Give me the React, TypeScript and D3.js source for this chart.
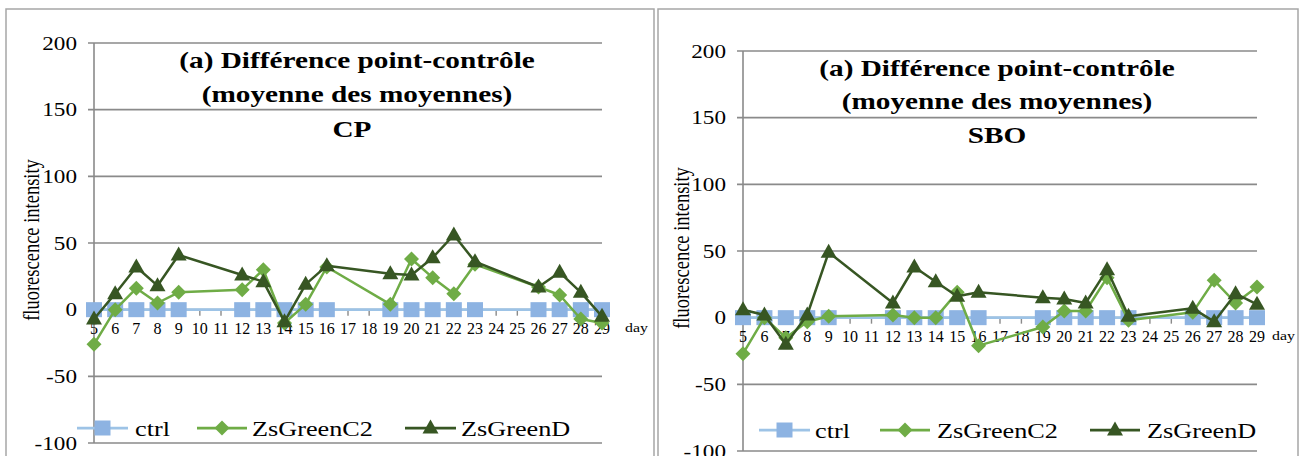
import React from "react";
import * as d3 from "d3";

// ---------- data ----------
const dayTicks = [5, 6, 7, 8, 9, 10, 11, 12, 13, 14, 15, 16, 17, 18, 19, 20, 21, 22, 23, 24, 25, 26, 27, 28, 29];
const yTicks = [-100, -50, 0, 50, 100, 150, 200];
const measuredDays = [5, 6, 7, 8, 9, 12, 13, 14, 15, 16, 19, 20, 21, 22, 23, 26, 27, 28, 29];

const cpCtrl = [0, 0, 0, 0, 0, 0, 0, 0, 0, 0, 0, 0, 0, 0, 0, 0, 0, 0, 0];
const cpC2 = [-26, 0, 16, 5, 13, 15, 30, -10, 4, 32, 4, 38, 24, 12, 34, 17, 11, -7, -10];
const cpD = [-7, 12, 32, 18, 41, 26, 21, -9, 19, 33, 27, 26, 39, 56, 36, 17, 28, 13, -5];

const sboCtrl = [0, 0, 0, 0, 0, 0, 0, 0, 0, 0, 0, 0, 0, 0, 0, 0, 0, 0, 0];
const sboC2 = [-27, 0, -15, -3, 1, 2, 0, 0, 19, -21, -7, 5, 5, 30, -2, 4, 28, 11, 23];
const sboD = [6, 2, -20, 2, 49, 11, 38, 27, 16, 19, 15, 14, 11, 36, 1, 7, -3, 18, 10];

const seriesNames = ["ctrl", "ZsGreenC2", "ZsGreenD"];
const titleLines = ["(a) Différence point-contrôle", "(moyenne des moyennes)"];

// ---------- styles ----------
const FONT = "Liberation Serif, Times New Roman, serif";
const SX = 1.22;
const GRID = "#8a8a8a";
const COLORS = {
  ctrlLine: "#9DC3E6",
  ctrlMark: "#8DB3E2",
  c2: "#6FAC46",
  d: "#375623",
};

function SText(props: {
  x: number; y: number; size: number; anchor?: string; weight?: string; rotate?: number; sx?: number; children: React.ReactNode;
}) {
  const { x, y, size, anchor = "start", weight = "normal", rotate = 0, sx = SX, children } = props;
  return (
    <text
      transform={`translate(${x},${y}) scale(${sx},1)${rotate ? ` rotate(${rotate})` : ""}`}
      textAnchor={anchor}
      fontFamily={FONT}
      fontSize={size}
      fontWeight={weight}
      fill="#000"
    >
      {children}
    </text>
  );
}

function Marker({ kind, x, y }: { kind: string; x: number; y: number }) {
  if (kind === "square") {
    return <rect x={x - 8} y={y - 7.5} width={16} height={15} fill={COLORS.ctrlMark} />;
  }
  if (kind === "diamond") {
    return (
      <path d={`M${x},${y - 7.5}L${x + 7.5},${y}L${x},${y + 7.5}L${x - 7.5},${y}Z`} fill={COLORS.c2} />
    );
  }
  return <path d={`M${x},${y - 8.5}L${x + 8},${y + 5.5}L${x - 8},${y + 5.5}Z`} fill={COLORS.d} />;
}

type PanelCfg = {
  frameX: number;
  frameW: number;
  xRange: [number, number];
  yTop: number; // y of 200
  yBottom: number; // y of -100
  titleX: number;
  titleBase: number[];
  sub: string;
  subX: number;
  yLabelX: number;
  legend: { line: [number, number]; text: number }[];
  legendY: number;
  dayX: number;
  ctrl: number[];
  c2: number[];
  d: number[];
};

function Panel({ cfg }: { cfg: PanelCfg }) {
  const x = d3.scalePoint<number>().domain(dayTicks).range(cfg.xRange);
  const y = d3.scaleLinear().domain([-100, 200]).range([cfg.yBottom, cfg.yTop]);
  const axisX = cfg.xRange[0];
  const right = cfg.xRange[1];

  const line = d3
    .line<[number, number]>()
    .x((p) => x(p[0]) as number)
    .y((p) => y(p[1]));

  const seriesList = [
    { vals: cfg.ctrl, color: COLORS.ctrlLine, kind: "square", w: 2.75 },
    { vals: cfg.c2, color: COLORS.c2, kind: "diamond", w: 2.5 },
    { vals: cfg.d, color: COLORS.d, kind: "triangle", w: 2.5 },
  ];

  return (
    <g>
      <rect x={cfg.frameX} y={9} width={cfg.frameW} height={470} fill="#fff" stroke="#a6a6a6" strokeWidth={1.5} />
      {/* gridlines */}
      {yTicks.map((t) => (
        <g key={t}>
          <line x1={axisX - 6} x2={right} y1={y(t)} y2={y(t)} stroke={GRID} strokeWidth={1.6} />
          <SText x={axisX - 17} y={y(t) + 6.5} size={19} anchor="end">
            {t}
          </SText>
        </g>
      ))}
      <line x1={axisX} x2={axisX} y1={y(200)} y2={y(-100)} stroke={GRID} strokeWidth={1.6} />
      {/* x ticks */}
      {dayTicks.map((dd) => (
        <g key={dd}>
          <line x1={x(dd)} x2={x(dd)} y1={y(0)} y2={y(0) + 6} stroke={GRID} strokeWidth={1.4} />
          <SText x={x(dd) as number} y={y(0) + 24} size={16} sx={1.0} anchor="middle">
            {dd}
          </SText>
        </g>
      ))}
      <SText x={cfg.dayX} y={y(0) + 22.5} size={13}>
        day
      </SText>
      {/* series */}
      {seriesList.map((s, i) => {
        const pts = measuredDays.map((dd, j) => [dd, s.vals[j]] as [number, number]);
        return (
          <g key={i}>
            <path d={line(pts) as string} fill="none" stroke={s.color} strokeWidth={s.w} strokeLinejoin="round" />
            {pts.map((p, j) => (
              <Marker key={j} kind={s.kind} x={x(p[0]) as number} y={y(p[1])} />
            ))}
          </g>
        );
      })}
      {/* title */}
      {titleLines.map((t, i) => (
        <SText key={i} x={cfg.titleX} y={cfg.titleBase[i]} size={24} weight="bold" anchor="middle">
          {t}
        </SText>
      ))}
      <SText x={cfg.subX} y={cfg.titleBase[2]} size={24} weight="bold" anchor="middle">
        {cfg.sub}
      </SText>
      {/* y label */}
      <SText x={cfg.yLabelX} y={(cfg.yTop + cfg.yBottom) / 2 - 3} size={18.5} anchor="middle" rotate={-90}>
        fluorescence intensity
      </SText>
      {/* legend */}
      {cfg.legend.map((l, i) => {
        const kind = ["square", "diamond", "triangle"][i];
        const color = [COLORS.ctrlLine, COLORS.c2, COLORS.d][i];
        const mx = (l.line[0] + l.line[1]) / 2;
        return (
          <g key={i}>
            <line x1={l.line[0]} x2={l.line[1]} y1={cfg.legendY} y2={cfg.legendY} stroke={color} strokeWidth={2.75} />
            <Marker kind={kind} x={mx} y={cfg.legendY} />
            <SText x={l.text} y={cfg.legendY + 7.5} size={21.5}>
              {seriesNames[i]}
            </SText>
          </g>
        );
      })}
    </g>
  );
}

const leftCfg: PanelCfg = {
  frameX: 6,
  frameW: 648,
  xRange: [94, 602],
  yTop: 43,
  yBottom: 443,
  titleX: 357,
  titleBase: [68, 102, 137],
  sub: "CP",
  subX: 352,
  yLabelX: 39,
  legend: [
    { line: [77, 128], text: 135 },
    { line: [197, 247], text: 252 },
    { line: [405, 456], text: 461 },
  ],
  legendY: 428,
  dayX: 625,
  ctrl: cpCtrl,
  c2: cpC2,
  d: cpD,
};

const rightCfg: PanelCfg = {
  frameX: 658,
  frameW: 640,
  xRange: [743, 1257],
  yTop: 51,
  yBottom: 451,
  titleX: 997,
  titleBase: [76, 109, 143],
  sub: "SBO",
  subX: 997,
  yLabelX: 689,
  legend: [
    { line: [759, 810], text: 815 },
    { line: [880, 930], text: 937 },
    { line: [1090, 1140], text: 1147 },
  ],
  legendY: 430,
  dayX: 1272,
  ctrl: sboCtrl,
  c2: sboC2,
  d: sboD,
};

export default function App() {
  return (
    <svg
      width={1306}
      height={456}
      style={{ position: "absolute", left: 0, top: 0, background: "#fff" }}
    >
      <rect x={0} y={0} width={1306} height={456} fill="#fff" />
      <Panel cfg={leftCfg} />
      <Panel cfg={rightCfg} />
    </svg>
  );
}
